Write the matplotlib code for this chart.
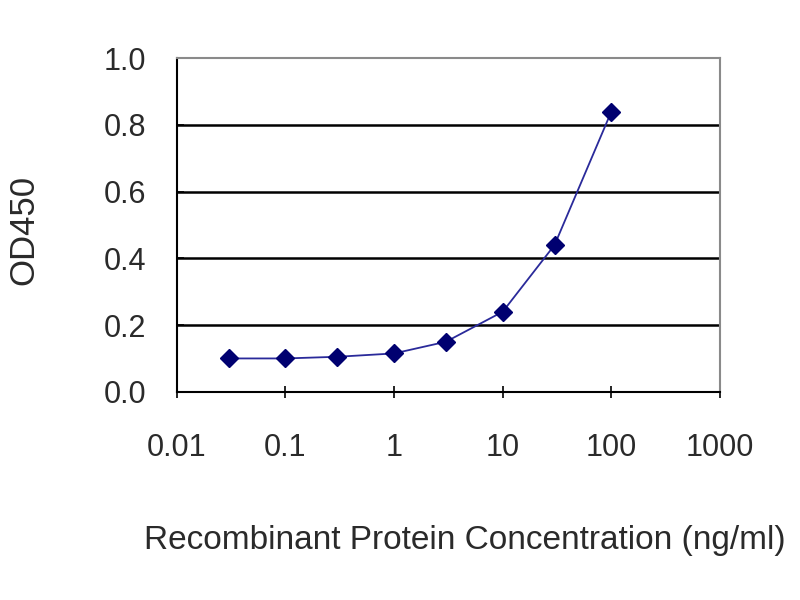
import matplotlib
matplotlib.use("Agg")
import matplotlib.pyplot as plt

# concentration (ng/ml) and OD450 readings
conc = [0.03, 0.1, 0.3, 1, 3, 10, 30, 100]
od450 = [0.10, 0.10, 0.105, 0.115, 0.15, 0.24, 0.44, 0.84]

xticks = [0.01, 0.1, 1, 10, 100, 1000]
xlabels = ["0.01", "0.1", "1", "10", "100", "1000"]
yticks = [0.0, 0.2, 0.4, 0.6, 0.8, 1.0]

plt.rcParams['font.family'] = ['Liberation Sans', 'DejaVu Sans']

fig = plt.figure(figsize=(8, 6), dpi=100)
ax = fig.add_axes([0.221, 0.347, 0.679, 0.556])

for y in yticks[1:-1]:
    ax.axhline(y, color='black', lw=1.8, zorder=1)

ax.plot(conc, od450, color='#2a2a9a', lw=1.3, zorder=2)
ax.plot(conc, od450, ls='none', marker='D', ms=9, color='#000070',
        markeredgecolor='#000070', zorder=3)

ax.set_xscale('log')
ax.set_xlim(0.01, 1000)
ax.set_ylim(0, 1.0)
ax.set_xticks(xticks)
ax.set_xticklabels(xlabels)
ax.minorticks_off()
ax.set_yticks(yticks)
ax.set_yticklabels([f"{v:.1f}" for v in yticks])

ax.tick_params(axis='x', direction='inout', length=8, width=1.2,
               labelsize=22, pad=26, colors='black', labelcolor='#2a2a2a')
ax.tick_params(axis='y', direction='in', length=5, width=1.2,
               labelsize=22, pad=22, labelcolor='#2a2a2a')

for side in ['left', 'bottom']:
    ax.spines[side].set_color('black')
    ax.spines[side].set_linewidth(1.5)
for side in ['top', 'right']:
    ax.spines[side].set_color('#8a8a8a')
    ax.spines[side].set_linewidth(1.5)

fig.text(0.581, 0.10, "Recombinant Protein Concentration (ng/ml)",
         ha='center', va='center', fontsize=24, color='#2a2a2a')
fig.text(0.03, 0.617, "OD450", rotation=90, ha='center', va='center',
         fontsize=25, color='#2a2a2a')

fig.savefig("out.png", dpi=100, facecolor='white')
